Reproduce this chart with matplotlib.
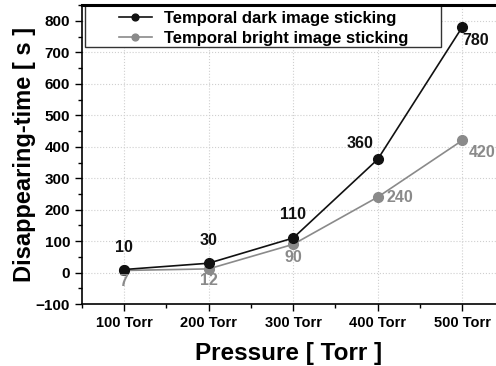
import matplotlib
matplotlib.use("Agg")
import matplotlib.pyplot as plt
from matplotlib.patches import Rectangle
from matplotlib.ticker import MultipleLocator

plt.rcParams["font.family"] = ["Liberation Sans", "DejaVu Sans"]
plt.rcParams["font.weight"] = "bold"

pressure = [100, 200, 300, 400, 500]
tick_labels = ["100 Torr", "200 Torr", "300 Torr", "400 Torr", "500 Torr"]
dark_time = [10, 30, 110, 360, 780]
bright_time = [7, 12, 90, 240, 420]

DARK = "#111111"
BRIGHT = "#8a8a8a"

fig = plt.figure(figsize=(4.96, 3.66), dpi=100)
ax = fig.add_axes([0.165, 0.169, 0.835, 0.817])

ax.plot(pressure, dark_time, color=DARK, lw=1.2, marker="o", ms=7,
        label="Temporal dark image sticking", zorder=3)
ax.plot(pressure, bright_time, color=BRIGHT, lw=1.2, marker="o", ms=7,
        label="Temporal bright image sticking", zorder=2)

# value labels: dark above (last one lower right), bright below / right
dark_off = [(0, 16), (0, 16.5), (0, 17), (-13, 11.5), (9.5, -9.5)]
bright_off = [(0, -8), (0, -8.5), (0, -9.5), (16, 0), (14.5, -8.6)]
for x, y, (dx, dy) in zip(pressure, dark_time, dark_off):
    ax.annotate(str(y), (x, y), xytext=(dx, dy), textcoords="offset points",
                ha="center", va="center", fontsize=11.5, fontweight="bold", color=DARK)
for x, y, (dx, dy) in zip(pressure, bright_time, bright_off):
    ax.annotate(str(y), (x, y), xytext=(dx, dy), textcoords="offset points",
                ha="center", va="center", fontsize=11.5, fontweight="bold", color=BRIGHT)

ax.set_xlim(50, 540)
ax.set_ylim(-100, 850)
ax.set_xticks(pressure)
ax.set_xticklabels(tick_labels)
ax.set_yticks(range(-100, 801, 100))
ax.xaxis.set_minor_locator(MultipleLocator(50))
ax.yaxis.set_minor_locator(MultipleLocator(50))
ax.tick_params(which="major", direction="out", length=5, width=1)
ax.tick_params(which="minor", direction="out", length=3, width=1)
ax.tick_params(axis="x", labelsize=10.5)
ax.tick_params(axis="y", labelsize=11)
for lab in ax.get_xticklabels() + ax.get_yticklabels():
    lab.set_fontweight("bold")

ax.grid(True, which="major", color="#cfcfcf", ls=":", lw=0.8)
ax.set_axisbelow(True)
for side in ["left", "bottom"]:
    ax.spines[side].set_linewidth(1.2)
ax.spines["top"].set_linewidth(2.2)
ax.spines["top"].set_zorder(6)
ax.spines["right"].set_visible(False)

ax.set_xlabel("Pressure [ Torr ]", fontsize=17.5, fontweight="bold", labelpad=9)
ax.set_ylabel("Disappearing-time [ s ]", fontsize=17, fontweight="bold", labelpad=0)

# legend frame is wider than the legend entries, draw it separately
ax.add_patch(Rectangle((0.007, 0.86), 0.86, 0.14, transform=ax.transAxes,
                       facecolor="white", edgecolor="#333333", lw=1.0, zorder=4))
leg = ax.legend(loc="upper left", bbox_to_anchor=(0.089, 0.982), borderaxespad=0,
                fontsize=12, handlelength=2.0, markerscale=0.7, frameon=False,
                borderpad=0, labelspacing=0.3, handletextpad=0.7)
leg.set_zorder(5)
for t in leg.get_texts():
    t.set_fontweight("bold")

fig.savefig("out.png", dpi=100, facecolor="white")
